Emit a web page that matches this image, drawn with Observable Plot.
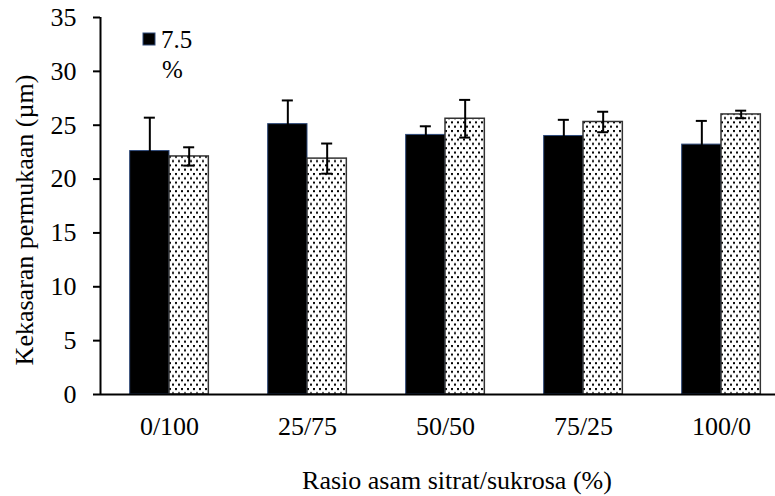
<!DOCTYPE html>
<html>
<head>
<meta charset="utf-8">
<script src="https://cdn.jsdelivr.net/npm/d3@7"></script>
<script src="https://cdn.jsdelivr.net/npm/@observablehq/plot@0.6"></script>
<style>
  html, body { margin: 0; padding: 0; background: #fff; }
  #chart svg { display: block; }
</style>
</head>
<body>
<div id="chart"></div>
<script>
// ---- data ----
const categories = ["0/100", "25/75", "50/50", "75/25", "100/0"];
const seriesNames = ["7.5 %", "seri 2"];
const valuesA = [22.6, 25.1, 24.1, 24.0, 23.2];
const errorsA = [3.1, 2.2, 0.8, 1.5, 2.2];
const valuesB = [22.1, 21.9, 25.6, 25.3, 26.0];
const errorsB = [0.85, 1.4, 1.75, 0.95, 0.35];
const yTicks = [0, 5, 10, 15, 20, 25, 30, 35];
const yLabel = "Kekasaran permukaan (µm)";
const xLabel = "Rasio asam sitrat/sukrosa (%)";

// ---- layout constants ----
const BAR = 0.285;   // bar width as share of category step
const CAP = 0.04;    // half width of error caps
const font = "Liberation Serif, Times New Roman, serif";

const rows = [];
categories.forEach((c, i) => {
  rows.push({cat: c, series: seriesNames[0], x1: i - BAR, x2: i, xc: i - BAR / 2,
             v: valuesA[i], lo: valuesA[i] - errorsA[i], hi: valuesA[i] + errorsA[i]});
  rows.push({cat: c, series: seriesNames[1], x1: i, x2: i + BAR, xc: i + BAR / 2,
             v: valuesB[i], lo: valuesB[i] - errorsB[i], hi: valuesB[i] + errorsB[i]});
});
const rowsA = rows.filter(d => d.series === seriesNames[0]);
const rowsB = rows.filter(d => d.series === seriesNames[1]);
const xDomain = [-0.5, categories.length - 0.5];

const plot = Plot.plot({
  width: 775,
  height: 496,
  marginLeft: 100,
  marginRight: -15,
  marginTop: 17,
  marginBottom: 102,
  style: {fontFamily: font, fontSize: "26px", color: "#000", background: "#fff"},
  x: {domain: xDomain, axis: null},
  y: {domain: [0, 35], axis: null},
  marks: [
    Plot.rectY(rowsA, {x1: "x1", x2: "x2", y1: 0, y2: "v", fill: "#000", stroke: "#2f4a7a", strokeWidth: 1}),
    Plot.rectY(rowsB, {x1: "x1", x2: "x2", y1: 0, y2: "v", fill: "url(#dots)", stroke: "#333", strokeWidth: 1.5}),
    Plot.ruleX(rows, {x: "xc", y1: "lo", y2: "hi", stroke: "#000", strokeWidth: 2}),
    Plot.ruleY(rows, {y: "hi", x1: d => d.xc - CAP, x2: d => d.xc + CAP, stroke: "#000", strokeWidth: 2}),
    Plot.ruleY(rows, {y: "lo", x1: d => d.xc - CAP, x2: d => d.xc + CAP, stroke: "#000", strokeWidth: 2}),
    Plot.ruleX([xDomain[0]], {y1: 0, y2: 35, stroke: "#000", strokeWidth: 2}),
    Plot.ruleY([0], {stroke: "#000", strokeWidth: 2}),
    Plot.axisY({ticks: yTicks, tickSize: 7, tickPadding: 17, label: null, strokeWidth: 2}),
    Plot.axisX({ticks: d3.range(categories.length), tickFormat: i => categories[i],
                tickSize: 0, tickPadding: 22, label: null})
  ]
});

document.getElementById("chart").appendChild(plot);

// ---- pattern + titles + legend ----
const svg = d3.select(plot);
const defs = svg.insert("defs", ":first-child");
const pat = defs.append("pattern").attr("id", "dots").attr("patternUnits", "userSpaceOnUse")
  .attr("width", 6).attr("height", 8.6);
pat.append("rect").attr("width", 6).attr("height", 8.6).attr("fill", "#fff");
pat.append("rect").attr("x", 1).attr("y", 1).attr("width", 2).attr("height", 2).attr("fill", "#000");
pat.append("rect").attr("x", 4).attr("y", 5.3).attr("width", 2).attr("height", 2).attr("fill", "#000");

svg.append("text")
  .attr("transform", "translate(33,220) rotate(-90)")
  .attr("text-anchor", "middle")
  .attr("font-family", font).attr("font-size", 26)
  .text(yLabel);

svg.append("text")
  .attr("x", 457).attr("y", 489)
  .attr("text-anchor", "middle")
  .attr("font-family", font).attr("font-size", 26)
  .text(xLabel);

const lg = svg.append("g").attr("font-family", font).attr("font-size", 25).attr("text-anchor", "start");
lg.append("rect").attr("x", 143).attr("y", 33).attr("width", 12).attr("height", 12)
  .attr("fill", "#000").attr("stroke", "#2f4a7a");
const parts = seriesNames[0].split(" ");
lg.append("text").attr("x", 161).attr("y", 48).attr("text-anchor", "start").text(parts[0]);
lg.append("text").attr("x", 162).attr("y", 78).attr("text-anchor", "start").text(parts[1]);
</script>
</body>
</html>
